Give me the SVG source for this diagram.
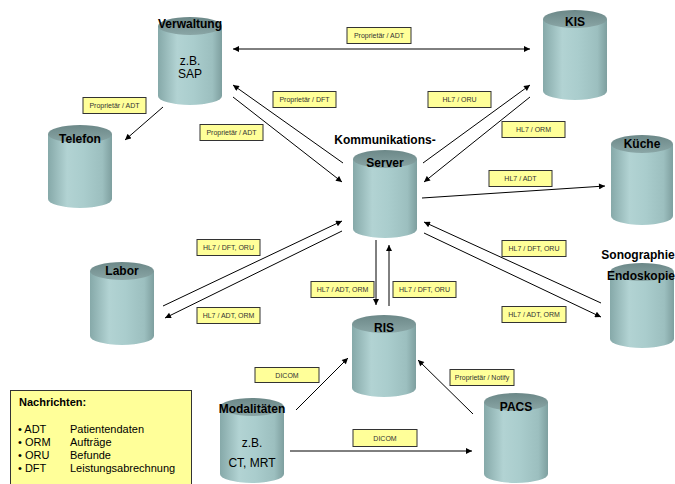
<svg xmlns="http://www.w3.org/2000/svg" width="675" height="484" viewBox="0 0 675 484">
<defs>
<linearGradient id="body" x1="0" y1="0" x2="1" y2="0">
<stop offset="0" stop-color="#86a9a9"/>
<stop offset="0.3" stop-color="#b2d3d3"/>
<stop offset="0.55" stop-color="#aacdcd"/>
<stop offset="0.85" stop-color="#9cbfbf"/>
<stop offset="1" stop-color="#7e9f9f"/>
</linearGradient>
<linearGradient id="top" x1="0" y1="0" x2="0" y2="1">
<stop offset="0" stop-color="#6c8888"/>
<stop offset="1" stop-color="#8aa6a6"/>
</linearGradient>
<marker id="ah" viewBox="0 0 10 10" refX="10" refY="5" markerWidth="7" markerHeight="6" markerUnits="userSpaceOnUse" orient="auto-start-reverse">
<path d="M0,0 L10,5 L0,10 z" fill="#000"/>
</marker>
</defs>
<style>
.body{fill:url(#body)}
.top{fill:url(#top)}
.t{font-family:"Liberation Sans",Arial,sans-serif;font-size:12px;font-weight:bold;fill:#000;text-anchor:middle}
.n{font-family:"Liberation Sans",Arial,sans-serif;font-size:12px;fill:#000;text-anchor:middle}
.lb rect{fill:#ffff99;stroke:#333;stroke-width:1}
.lb text{font-family:"Liberation Sans",Arial,sans-serif;font-size:7px;fill:#333;text-anchor:middle}
.c path{fill:none;stroke:#000;stroke-width:1;marker-end:url(#ah)}
.lg{font-family:"Liberation Sans",Arial,sans-serif;font-size:11px;fill:#000}
</style>

<g id="verwaltung">
<path class="body" d="M158,26 V96 A32,9 0 0 0 222,96 V26 Z"/>
<ellipse class="top" cx="190" cy="26" rx="32" ry="9"/>
<text class="t" x="190" y="28">Verwaltung</text>
<text class="n" x="190" y="65">z.B.</text>
<text class="n" x="190" y="78">SAP</text>
</g>
<g id="kis">
<path class="body" d="M543,19 V91 A32,9 0 0 0 607,91 V19 Z"/>
<ellipse class="top" cx="575" cy="19" rx="32" ry="9"/>
<text class="t" x="575" y="26">KIS</text>
</g>
<g id="telefon">
<path class="body" d="M48,134 V199 A32,9 0 0 0 112,199 V134 Z"/>
<ellipse class="top" cx="80" cy="134" rx="32" ry="9"/>
<text class="t" x="80" y="143">Telefon</text>
</g>
<g id="server">
<text class="t" x="385" y="144">Kommunikations-</text>
<path class="body" d="M353,159 V229 A32,9 0 0 0 417,229 V159 Z"/>
<ellipse class="top" cx="385" cy="159" rx="32" ry="9"/>
<text class="t" x="385" y="167">Server</text>
</g>
<g id="kueche">
<path class="body" d="M611,144 V216 A31,9 0 0 0 673,216 V144 Z"/>
<ellipse class="top" cx="642" cy="144" rx="31" ry="9"/>
<text class="t" x="642" y="148">Küche</text>
</g>
<g id="labor">
<path class="body" d="M90,271 V336 A32,9 0 0 0 154,336 V271 Z"/>
<ellipse class="top" cx="122" cy="271" rx="32" ry="9"/>
<text class="t" x="122" y="275">Labor</text>
</g>
<g id="ris">
<path class="body" d="M352,324 V388 A32,9 0 0 0 416,388 V324 Z"/>
<ellipse class="top" cx="384" cy="324" rx="32" ry="9"/>
<text class="t" x="384" y="332">RIS</text>
</g>
<g id="sonographie">
<path class="body" d="M610,272 V339 A32,9 0 0 0 674,339 V272 Z"/>
<ellipse class="top" cx="642" cy="272" rx="32" ry="9"/>
<text class="t" x="638" y="259">Sonographie</text>
<text class="t" x="641" y="280">Endoskopie</text>
</g>
<g id="modalitaeten">
<path class="body" d="M220,407 V474 A32,9 0 0 0 284,474 V407 Z"/>
<ellipse class="top" cx="252" cy="407" rx="32" ry="9"/>
<text class="t" x="252" y="413">Modalitäten</text>
<text class="n" x="252" y="447">z.B.</text>
<text class="n" x="252" y="467">CT, MRT</text>
</g>
<g id="pacs">
<path class="body" d="M484,402 V474 A32,9 0 0 0 548,474 V402 Z"/>
<ellipse class="top" cx="516" cy="402" rx="32" ry="9"/>
<text class="t" x="516" y="411">PACS</text>
</g>

<g id="connectors" class="c">
<path d="M233,49 H530" style="marker-start:url(#ah)"/>
<path d="M163,107 L125,140"/>
<path d="M343,163 L233,85"/>
<path d="M233,97 L342,182"/>
<path d="M423,163 L530,85"/>
<path d="M530,97 L424,182"/>
<path d="M422,198 L605,186"/>
<path d="M163,306 L342,221"/>
<path d="M342,231 L165,318"/>
<path d="M601,303 L424,222"/>
<path d="M424,233 L601,317"/>
<path d="M376,240 V305"/>
<path d="M389,306 V245"/>
<path d="M296,410 L348,358"/>
<path d="M473,414 L418,360"/>
<path d="M290,451 H472"/>
</g>

<g id="labels" class="lb">
<rect x="347" y="27.5" width="64" height="16"/><text x="379" y="38">Proprietär / ADT</text>
<rect x="273" y="91.5" width="63" height="16"/><text x="304.5" y="102">Proprietär / DFT</text>
<rect x="428" y="91.5" width="63" height="16"/><text x="459.5" y="102">HL7 / ORU</text>
<rect x="502" y="121.5" width="63" height="16"/><text x="533.5" y="132">HL7 / ORM</text>
<rect x="200" y="124.5" width="63" height="16"/><text x="231.5" y="135">Proprietär / ADT</text>
<rect x="83" y="97.5" width="63" height="16"/><text x="114.5" y="108">Proprietär / ADT</text>
<rect x="489" y="170.5" width="63" height="16"/><text x="520.5" y="181">HL7 / ADT</text>
<rect x="197" y="239.5" width="63" height="16"/><text x="228.5" y="250">HL7 / DFT, ORU</text>
<rect x="197" y="307.5" width="63" height="16"/><text x="228.5" y="318">HL7 / ADT, ORM</text>
<rect x="311" y="281.5" width="63" height="16"/><text x="342.5" y="292">HL7 / ADT, ORM</text>
<rect x="393" y="281.5" width="63" height="16"/><text x="424.5" y="292">HL7 / DFT, ORU</text>
<rect x="502" y="240.5" width="64" height="16"/><text x="534" y="251">HL7 / DFT, ORU</text>
<rect x="502" y="306.5" width="64" height="16"/><text x="534" y="317">HL7 / ADT, ORM</text>
<rect x="255" y="367.5" width="64" height="15"/><text x="287" y="378">DICOM</text>
<rect x="353" y="429.5" width="64" height="17"/><text x="385" y="441">DICOM</text>
<rect x="450" y="369.5" width="64" height="16"/><text x="482" y="380">Proprietär / Notify</text>
</g>

<g id="legend">
<rect x="10.5" y="390.5" width="181" height="100" fill="#ffff99" stroke="#333" stroke-width="1"/>
<text class="lg" x="19" y="406" font-weight="bold" font-size="12">Nachrichten:</text>
<text class="lg" x="18" y="433">• ADT</text><text class="lg" x="70" y="433">Patientendaten</text>
<text class="lg" x="18" y="446">• ORM</text><text class="lg" x="70" y="446">Aufträge</text>
<text class="lg" x="18" y="459">• ORU</text><text class="lg" x="70" y="459">Befunde</text>
<text class="lg" x="18" y="472">• DFT</text><text class="lg" x="70" y="472">Leistungsabrechnung</text>
</g>
</svg>
